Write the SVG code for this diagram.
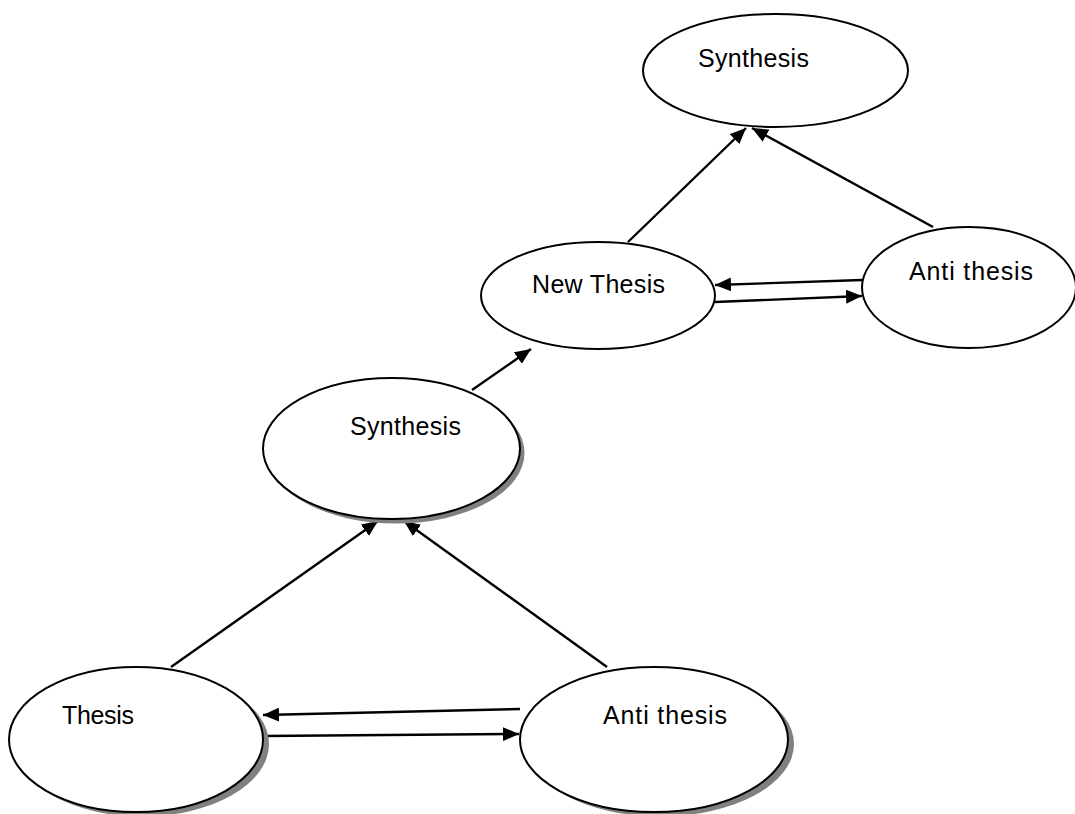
<svg xmlns="http://www.w3.org/2000/svg" width="1075" height="814" viewBox="0 0 1075 814">
<style>
.node{fill:#ffffff;stroke:#000000;stroke-width:2}
.shadow{fill:#808080;stroke:none}
.label{font-family:"Liberation Sans",Arial,sans-serif;font-size:25px;fill:#000000}
.edge{stroke:#000000;stroke-width:2.4;fill:none}
</style>
<defs>
<marker id="arrow" markerUnits="userSpaceOnUse" markerWidth="17" markerHeight="14" refX="16" refY="7" orient="auto">
<path d="M0,0 L16,7 L0,14 z" fill="#000000"/>
</marker>
</defs>
<rect width="1075" height="814" fill="#ffffff"/>
<g id="connectors">
<line class="edge" x1="171" y1="667" x2="378" y2="521" marker-end="url(#arrow)"/>
<line class="edge" x1="607" y1="667" x2="404" y2="521" marker-end="url(#arrow)"/>
<line class="edge" x1="520" y1="709" x2="263" y2="715" marker-end="url(#arrow)"/>
<line class="edge" x1="263" y1="736" x2="519" y2="734" marker-end="url(#arrow)"/>
<line class="edge" x1="472" y1="390" x2="531" y2="349" marker-end="url(#arrow)"/>
<line class="edge" x1="628" y1="242" x2="746" y2="128" marker-end="url(#arrow)"/>
<line class="edge" x1="933" y1="227" x2="752" y2="128" marker-end="url(#arrow)"/>
<line class="edge" x1="862" y1="280" x2="715" y2="285" marker-end="url(#arrow)"/>
<line class="edge" x1="715" y1="302" x2="862" y2="296" marker-end="url(#arrow)"/>
</g>
<g id="thesis">
<ellipse class="shadow" cx="142" cy="744" rx="127" ry="72.5"/>
<ellipse class="node" cx="136" cy="739.5" rx="127" ry="72.5"/>
<text class="label" x="62" y="724" textLength="72">Thesis</text>
</g>
<g id="antithesis1">
<ellipse class="shadow" cx="660" cy="744" rx="134" ry="72.5"/>
<ellipse class="node" cx="654" cy="739.5" rx="134" ry="72.5"/>
<text class="label" x="603" y="724" textLength="124">Anti thesis</text>
</g>
<g id="synthesis1">
<ellipse class="shadow" cx="396" cy="453" rx="128.5" ry="70.5"/>
<ellipse class="node" cx="391.5" cy="448.5" rx="128.5" ry="70.5"/>
<text class="label" x="350" y="435" textLength="111">Synthesis</text>
</g>
<g id="newthesis">
<ellipse class="node" cx="598" cy="295.5" rx="117" ry="53.5"/>
<text class="label" x="532" y="293" textLength="133">New Thesis</text>
</g>
<g id="antithesis2">
<ellipse class="node" cx="969" cy="287.5" rx="107" ry="60.5"/>
<text class="label" x="909" y="280" textLength="124">Anti thesis</text>
</g>
<g id="synthesis2">
<ellipse class="node" cx="775.5" cy="70.5" rx="132.5" ry="56.5"/>
<text class="label" x="698" y="67" textLength="111">Synthesis</text>
</g>
</svg>
